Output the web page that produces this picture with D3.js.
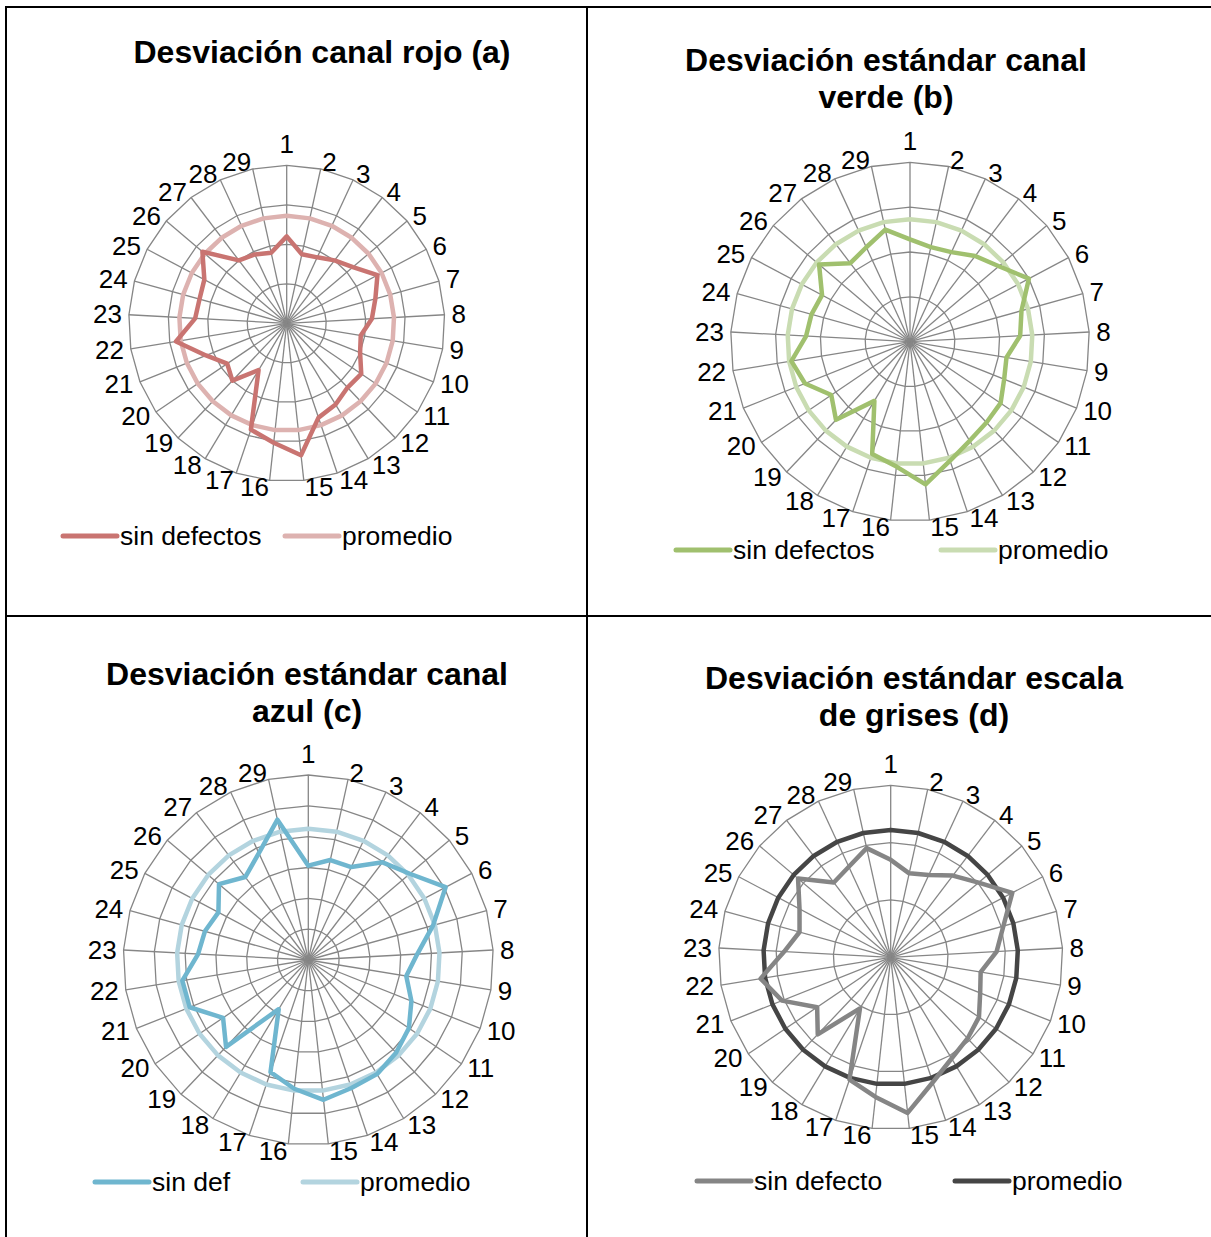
<!DOCTYPE html>
<html><head><meta charset="utf-8">
<script src="https://cdn.jsdelivr.net/npm/d3@7"></script>
<style>body{margin:0;background:#fff}svg{display:block}text{font-family:"Liberation Sans",Arial,sans-serif}</style>
</head><body>
<svg id="c" width="1211" height="1237"></svg>
<script>
const categories = ["1","2","3","4","5","6","7","8","9","10","11","12","13","14","15","16","17","18","19","20","21","22","23","24","25","26","27","28","29"];

const redSinDefectos = [22.0,17.9,18.4,20.0,22.0,26.0,23.3,21.6,19.0,20.0,22.8,22.4,24.0,25.2,33.6,30.4,28.4,13.8,20.0,18.2,22.0,28.4,23.2,22.9,23.6,28.0,20.0,19.2,18.3];
const redPromedio = [27.2,27.2,27.2,27.2,27.2,27.2,27.2,27.2,27.2,27.2,27.2,27.2,27.2,27.2,27.2,27.2,27.2,27.2,27.2,27.2,27.2,27.2,27.2,27.2,27.2,27.2,27.2,27.2,27.2];

const greenSinDefectos = [22.8,21.6,22.0,24.0,26.0,30.0,25.8,24.6,21.8,22.6,24.4,24.8,25.8,28.0,32.0,28.0,26.4,15.4,24.0,21.2,25.2,26.8,23.2,22.8,22.2,26.6,22.0,23.2,25.6];
const greenPromedio = [27.3,27.3,27.3,27.3,27.3,27.3,27.3,27.3,27.3,27.3,27.3,27.3,27.3,27.3,27.3,27.3,27.3,27.3,27.3,27.3,27.3,27.3,27.3,27.3,27.3,27.3,27.3,27.3,27.3];

const blueSinDef = [15.3,16.6,16.6,19.9,21.6,25.2,21.0,17.7,16.1,18.0,19.7,20.7,21.6,21.9,22.8,21.0,19.2,9.3,19.4,16.7,20.7,20.7,17.9,17.4,16.5,19.0,16.9,19.1,23.3];
const bluePromedio = [21.3,21.3,21.3,21.3,21.3,21.3,21.3,21.3,21.3,21.3,21.3,21.3,21.3,21.3,21.3,21.3,21.3,21.3,21.3,21.3,21.3,21.3,21.3,21.3,21.3,21.3,21.3,21.3,21.3];

const graySinDefecto = [17.0,15.0,15.8,17.9,20.1,24.0,20.4,18.5,15.9,16.8,18.6,19.5,20.6,23.0,27.3,24.5,22.5,10.4,18.5,15.5,20.4,23.0,18.6,16.5,18.0,21.2,16.4,17.4,19.5];
const grayPromedio = [22.2,22.2,22.2,22.2,22.2,22.2,22.2,22.2,22.2,22.2,22.2,22.2,22.2,22.2,22.2,22.2,22.2,22.2,22.2,22.2,22.2,22.2,22.2,22.2,22.2,22.2,22.2,22.2,22.2];

const titles = [["Desviación canal rojo (a)"],["Desviación estándar canal","verde (b)"],["Desviación estándar canal","azul (c)"],["Desviación estándar escala","de grises (d)"]];
const seriesNames = [["sin defectos","promedio"],["sin defectos","promedio"],["sin def","promedio"],["sin defecto","promedio"]];
const axisTicks = [[10,20,30,40],[10,20,30,40],[5,10,15,20,25,30],[10,20,30]];

const panels = [
  {cx:286.7, cy:323.3, R:158, max:40, ticks:axisTicks[0], s1:redSinDefectos, s2:redPromedio, c1:"#C97471", c2:"#DDB2B0",
   title:titles[0], tx:322, ty:52, names:seriesNames[0], ly:536, l1:63, l2:285},
  {cx:910, cy:341.7, R:179.4, max:40, ticks:axisTicks[1], s1:greenSinDefectos, s2:greenPromedio, c1:"#A0C06E", c2:"#C9DCB2",
   title:titles[1], tx:886, ty:60, names:seriesNames[1], ly:550, l1:676, l2:941},
  {cx:308.3, cy:960, R:185, max:30, ticks:axisTicks[2], s1:blueSinDef, s2:bluePromedio, c1:"#6FB6CF", c2:"#B3D4DF",
   title:titles[2], tx:307, ty:674, names:seriesNames[2], ly:1182, l1:95, l2:303},
  {cx:890.7, cy:957.3, R:172, max:30, ticks:axisTicks[3], s1:graySinDefecto, s2:grayPromedio, c1:"#858585", c2:"#454545",
   title:titles[3], tx:914, ty:678, names:seriesNames[3], ly:1181, l1:697, l2:955}
];

const LABEL_FS = 26, LEGEND_FS = 26.5, TITLE_FS = 32;

const svg = d3.select("#c");
svg.append("rect").attr("width",1211).attr("height",1237).attr("fill","#fff");

// table borders
const border = svg.append("g").attr("stroke","#000").attr("stroke-width",2);
border.append("line").attr("x1",6).attr("x2",6).attr("y1",6).attr("y2",1237);
border.append("line").attr("x1",587).attr("x2",587).attr("y1",6).attr("y2",1237);
border.append("line").attr("x1",5).attr("x2",1211).attr("y1",7).attr("y2",7);
border.append("line").attr("x1",5).attr("x2",1211).attr("y1",616).attr("y2",616);

const angle = d3.scaleLinear().domain([0, categories.length]).range([0, 2*Math.PI]);

panels.forEach(p => {
  const g = svg.append("g").attr("transform",`translate(${p.cx},${p.cy})`);
  const r = d3.scaleLinear().domain([0,p.max]).range([0,p.R]);
  const radial = d3.lineRadial().angle((d,i)=>angle(i)).radius(d=>r(d)).curve(d3.curveLinearClosed);

  // rings
  p.ticks.forEach(t => {
    g.append("path").attr("d", radial(categories.map(()=>t)))
      .attr("fill","none").attr("stroke","#868686").attr("stroke-width",1.3);
  });
  // spokes
  categories.forEach((c,i) => {
    const a = angle(i);
    g.append("line").attr("x1",0).attr("y1",0)
      .attr("x2", r(p.max)*Math.sin(a)).attr("y2", -r(p.max)*Math.cos(a))
      .attr("stroke","#868686").attr("stroke-width",1.3);
  });
  // category labels
  categories.forEach((c,i) => {
    const a = angle(i);
    const d = r(p.max) + 7;
    const s = Math.sin(a), co = Math.cos(a);
    let x = d*s, y = -d*co, anchor;
    if (Math.abs(s) < 1e-6) { anchor = "middle"; y += co > 0 ? -LABEL_FS*0.55 : LABEL_FS*0.55; }
    else anchor = s > 0 ? "start" : "end";
    g.append("text").attr("x",x).attr("y",y).attr("text-anchor",anchor)
      .attr("dominant-baseline","central").attr("font-size",LABEL_FS).attr("fill","#000").text(c);
  });
  // series
  g.append("path").attr("d", radial(p.s2)).attr("fill","none").attr("stroke",p.c2).attr("stroke-width",4.5).attr("stroke-linejoin","round");
  g.append("path").attr("d", radial(p.s1)).attr("fill","none").attr("stroke",p.c1).attr("stroke-width",4.5).attr("stroke-linejoin","round");

  // title
  const tt = svg.append("text").attr("x",p.tx).attr("y",p.ty).attr("text-anchor","middle")
    .attr("font-weight","bold").attr("font-size",TITLE_FS).attr("fill","#000");
  p.title.forEach((line,k) => {
    tt.append("tspan").attr("x",p.tx).attr("dy", k===0 ? "0.35em" : "1.16em").text(line);
  });

  // legend
  [[p.l1,p.c1,p.names[0]],[p.l2,p.c2,p.names[1]]].forEach(([lx,col,name]) => {
    svg.append("line").attr("x1",lx).attr("x2",lx+54).attr("y1",p.ly).attr("y2",p.ly)
      .attr("stroke",col).attr("stroke-width",5).attr("stroke-linecap","round");
    svg.append("text").attr("x",lx+57).attr("y",p.ly).attr("dominant-baseline","central")
      .attr("font-size",LEGEND_FS).attr("fill","#000").text(name);
  });
});
</script>
</body></html>
